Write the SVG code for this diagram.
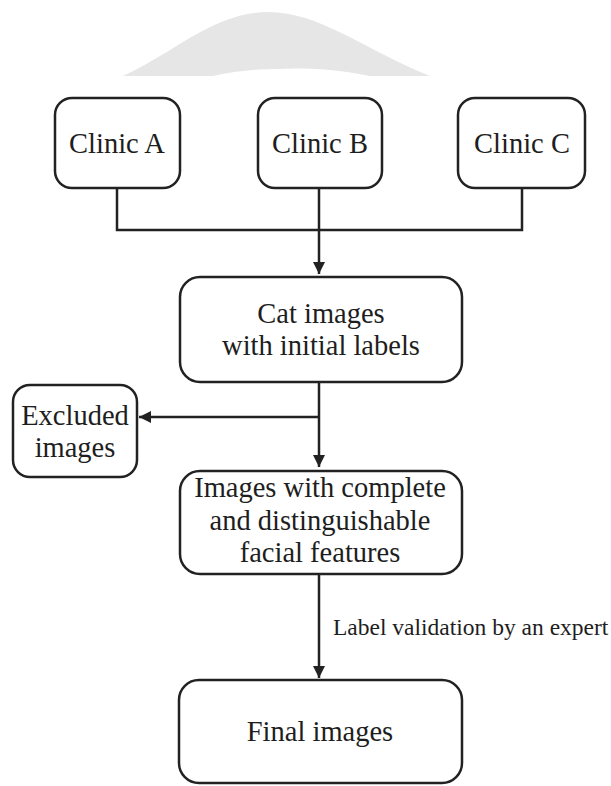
<svg xmlns="http://www.w3.org/2000/svg" width="611" height="786" viewBox="0 0 611 786">
  <style>
    .box { fill: #ffffff; stroke: #222222; stroke-width: 2.5; }
    .t { font-family: "Liberation Serif", "Times New Roman", serif; font-size: 28.5px; fill: #1e1e1e; text-anchor: middle; }
    .lbl { font-family: "Liberation Serif", "Times New Roman", serif; font-size: 23.5px; fill: #1e1e1e; }
    .ln { fill: none; stroke: #222222; stroke-width: 2.5; }
  </style>
  <defs>
    <marker id="arr" markerUnits="userSpaceOnUse" markerWidth="14" markerHeight="14" refX="12" refY="6" orient="auto">
      <path d="M0,0 L12,6 L0,12 Z" fill="#222222"/>
    </marker>
  </defs>
  <rect width="611" height="786" fill="#ffffff"/>
  <path id="bg-shape" d="M 123 76 C 175 52, 215 12, 268 12 C 320 12, 365 50, 430 76 L 370 76 C 330 68, 300 68, 280 69 C 255 69, 235 71, 213 76 Z" fill="#e6e6e6"/>

  <g id="connectors">
    <polyline class="ln" points="117,188 117,230 522,230 522,188"/>
    <line class="ln" x1="319" y1="188" x2="319" y2="274" marker-end="url(#arr)"/>
    <line class="ln" x1="319" y1="382" x2="319" y2="467" marker-end="url(#arr)"/>
    <line class="ln" x1="319" y1="417" x2="139" y2="417" marker-end="url(#arr)"/>
    <line class="ln" x1="319" y1="574" x2="319" y2="678" marker-end="url(#arr)"/>
    <text class="lbl" x="333" y="635">Label validation by an expert</text>
  </g>

  <g id="clinic-a">
    <rect class="box" x="55" y="98" width="125" height="90" rx="17"/>
    <text class="t" x="117" y="153">Clinic A</text>
  </g>
  <g id="clinic-b">
    <rect class="box" x="258" y="98" width="124" height="90" rx="17"/>
    <text class="t" x="320" y="153">Clinic B</text>
  </g>
  <g id="clinic-c">
    <rect class="box" x="458" y="98" width="127" height="90" rx="17"/>
    <text class="t" x="522" y="153">Clinic C</text>
  </g>
  <g id="cat-images">
    <rect class="box" x="180" y="277" width="282" height="105" rx="20"/>
    <text class="t" x="321" y="323">Cat images</text>
    <text class="t" x="321" y="355">with initial labels</text>
  </g>
  <g id="excluded">
    <rect class="box" x="13" y="385" width="124" height="92" rx="17"/>
    <text class="t" x="75" y="425">Excluded</text>
    <text class="t" x="75" y="457">images</text>
  </g>
  <g id="complete-images">
    <rect class="box" x="180" y="471" width="282" height="103" rx="20"/>
    <text class="t" x="320" y="497">Images with complete</text>
    <text class="t" x="320" y="530">and distinguishable</text>
    <text class="t" x="320" y="562">facial features</text>
  </g>
  <g id="final-images">
    <rect class="box" x="179" y="680" width="283" height="103" rx="20"/>
    <text class="t" x="320" y="741">Final images</text>
  </g>
</svg>
